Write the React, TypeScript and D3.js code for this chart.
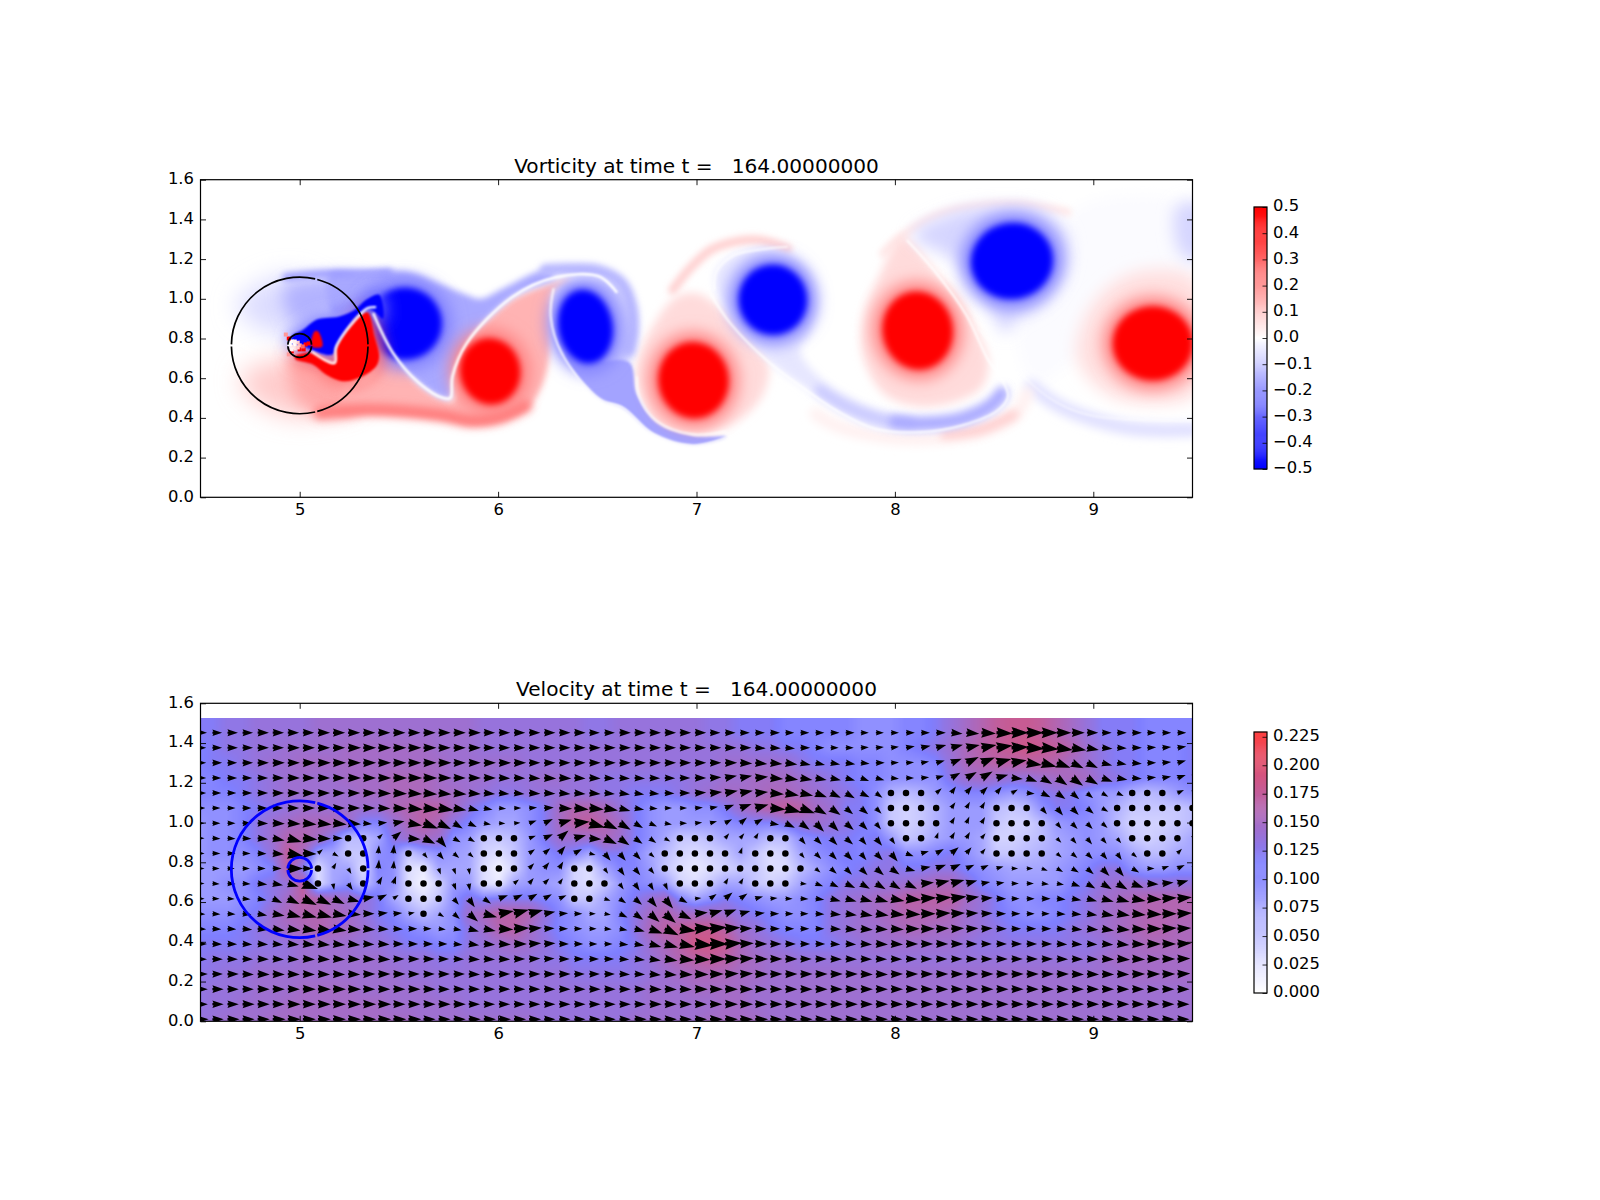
import { useEffect, useRef } from "react"
import * as d3 from "d3"

type Pt = [number, number]

const xTicks = [5, 6, 7, 8, 9]
const yTicks = [0, 0.2, 0.4, 0.6, 0.8, 1.0, 1.2, 1.4, 1.6]
const vorticityBarTicks = [-0.5, -0.4, -0.3, -0.2, -0.1, 0, 0.1, 0.2, 0.3, 0.4, 0.5]
const speedBarTicks = [0, 0.025, 0.05, 0.075, 0.1, 0.125, 0.15, 0.175, 0.2, 0.225]

// vortex cores: the saturated blobs in the top panel
const coreX = [5.53, 5.96, 6.44, 6.985, 7.385, 8.115, 8.59, 9.3]
const coreY = [0.875, 0.635, 0.86, 0.59, 0.995, 0.84, 1.19, 0.775]
const coreRx = [0.175, 0.14, 0.125, 0.165, 0.16, 0.165, 0.195, 0.19]
const coreRy = [0.17, 0.155, 0.175, 0.18, 0.165, 0.185, 0.18, 0.175]
const coreTilt = [0, 10, 10, 8, 10, 10, 10, 0]
const coreSign = [-1, 1, -1, 1, -1, 1, -1, 1]

// vorticity sheets, outlines in data units
const upperSheet: Pt[] = [[5.15, 1.125], [5.3, 1.13], [5.54, 1.137], [5.7, 1.078], [5.84, 1.02], [5.91, 1.0], [6.04, 1.06], [6.24, 1.145], [6.29, 1.108], [6.07, 1.008], [5.84, 0.774], [5.77, 0.61], [5.76, 0.501], [5.72, 0.501], [5.6, 0.577], [5.47, 0.727], [5.37, 0.928], [5.28, 0.953], [5.17, 0.93], [5.14, 1.0]]
const upperBand: Pt[] = [[6.24, 1.145], [6.38, 1.15], [6.51, 1.14], [6.62, 1.08], [6.67, 0.97], [6.68, 0.84], [6.66, 0.74]]
const capPale: Pt[] = [[4.68, 0.96], [4.78, 1.06], [4.95, 1.115], [5.1, 1.05], [5.05, 0.9], [4.9, 0.82]]
const capBlue: Pt[] = [[4.92, 1.05], [5.05, 1.1], [5.3, 1.1], [5.32, 0.98], [5.1, 0.92], [4.97, 0.88]]
const capEdge: Pt[] = [[4.93, 1.11], [5.1, 1.125], [5.3, 1.13], [5.45, 1.135]]
const capPink: Pt[] = [[4.7, 0.6], [4.95, 0.7], [5.1, 0.62], [5.3, 0.5], [5.07, 0.41], [4.9, 0.42], [4.76, 0.5]]
const capPinkInner: Pt[] = [[4.95, 0.68], [5.1, 0.62], [5.25, 0.55], [5.3, 0.44], [5.1, 0.42], [4.98, 0.5]]
const lowerSheet: Pt[] = [[6.37, 1.103], [6.07, 0.995], [5.84, 0.76], [5.78, 0.61], [5.78, 0.485], [5.72, 0.493], [5.6, 0.568], [5.48, 0.719], [5.37, 0.911], [5.4, 0.677], [5.34, 0.593], [5.25, 0.55], [5.2, 0.42], [5.335, 0.43], [5.7, 0.401], [5.87, 0.368], [6.0, 0.384], [6.14, 0.443], [6.22, 0.56], [6.26, 0.727], [6.26, 0.928], [6.28, 1.045]]
const blueTwoBody: Pt[] = [[6.31, 1.06], [6.27, 0.911], [6.32, 0.727], [6.45, 0.62], [6.6, 0.6], [6.66, 0.68], [6.68, 0.844], [6.66, 0.97], [6.59, 1.077], [6.45, 1.1]]
const blueTwoCrescent: Pt[] = [[6.33, 0.72], [6.51, 0.5], [6.63, 0.45], [6.78, 0.325], [6.98, 0.265], [7.15, 0.305], [6.98, 0.31], [6.8, 0.375], [6.7, 0.52], [6.66, 0.68], [6.45, 0.68]]
const redThreeBody: Pt[] = [[7.0, 1.027], [7.09, 0.977], [7.25, 0.81], [7.36, 0.676], [7.33, 0.509], [7.19, 0.375], [7.0, 0.317], [6.8, 0.367], [6.71, 0.542], [6.7, 0.676], [6.8, 0.894], [6.9, 1.01]]
const blueThreeBody: Pt[] = [[7.11, 1.027], [7.1, 1.136], [7.19, 1.22], [7.36, 1.248], [7.54, 1.161], [7.6, 0.994], [7.57, 0.827], [7.52, 0.743], [7.63, 0.593], [7.79, 0.492], [7.94, 0.434], [8.13, 0.409], [8.33, 0.434], [8.48, 0.5], [8.54, 0.559], [8.57, 0.5], [8.52, 0.442], [8.34, 0.367], [8.13, 0.334], [7.9, 0.35], [7.71, 0.442], [7.54, 0.559], [7.36, 0.693], [7.25, 0.827]]
const redFourBody: Pt[] = [[8.04, 1.312], [8.21, 1.128], [8.36, 0.927], [8.47, 0.693], [8.44, 0.559], [8.31, 0.484], [8.11, 0.459], [7.94, 0.526], [7.84, 0.71], [7.84, 0.91], [7.92, 1.111]]
const blueFourBody: Pt[] = [[8.09, 1.32], [8.25, 1.42], [8.44, 1.462], [8.73, 1.446], [8.86, 1.337], [8.87, 1.161], [8.75, 0.977], [8.61, 0.894], [8.56, 0.827], [8.44, 1.027], [8.31, 1.186]]
const redFiveBody: Pt[] = [[9.1, 1.078], [9.27, 1.144], [9.52, 1.094], [9.52, 0.526], [9.27, 0.475], [9.06, 0.526], [8.92, 0.693], [8.96, 0.91]]
const blueEdgeBody: Pt[] = [[9.42, 1.462], [9.55, 1.48], [9.55, 1.195], [9.44, 1.228]]
const farWash: Pt[] = [[8.9, 1.45], [9.5, 1.47], [9.5, 1.1], [8.95, 0.72], [8.7, 0.58], [8.62, 0.85], [8.87, 1.2]]
const nearRed: Pt[] = [[4.975, 0.71], [5.07, 0.727], [5.176, 0.674], [5.184, 0.752], [5.3, 0.911], [5.343, 0.931], [5.377, 0.81], [5.4, 0.71], [5.385, 0.66], [5.3, 0.602], [5.22, 0.585], [5.134, 0.618], [5.067, 0.669], [4.98, 0.694]]
const nearBlue: Pt[] = [[4.96, 0.81], [5.017, 0.844], [5.084, 0.894], [5.134, 0.903], [5.2, 0.911], [5.276, 0.944], [5.335, 0.995], [5.4, 1.02], [5.42, 0.9], [5.36, 0.945], [5.293, 0.92], [5.184, 0.764], [5.164, 0.719], [5.067, 0.74], [5.0, 0.769], [4.958, 0.769]]
const nearTriangle: Pt[] = [[5.06, 0.76], [5.114, 0.76], [5.092, 0.836], [5.075, 0.836]]

// thin streaks, open lines
const arcOverBlueThree: Pt[] = [[6.88, 1.044], [6.96, 1.145], [7.07, 1.245], [7.19, 1.287], [7.32, 1.295], [7.46, 1.253]]
const arcOverBlueFour: Pt[] = [[7.94, 1.228], [8.04, 1.32], [8.21, 1.42], [8.4, 1.466], [8.63, 1.476], [8.87, 1.437]]
const tailThreeFaint: Pt[] = [[7.62, 0.54], [7.75, 0.46], [7.94, 0.39], [8.08, 0.372]]
const tailThree: Pt[] = [[8.0, 0.38], [8.13, 0.371], [8.33, 0.392], [8.48, 0.459], [8.54, 0.525]]
const pinkUnderTail: Pt[] = [[7.6, 0.42], [7.71, 0.358], [7.98, 0.3], [8.25, 0.3], [8.44, 0.333], [8.6, 0.41], [8.67, 0.526]]
const pinkUnderTailStrong: Pt[] = [[8.25, 0.317], [8.44, 0.345], [8.6, 0.417]]
const tailFour: Pt[] = [[8.69, 0.559], [8.83, 0.459], [9.0, 0.392], [9.21, 0.345], [9.5, 0.34]]
const pinkBottomBand: Pt[] = [[5.1, 0.425], [5.335, 0.44], [5.7, 0.415], [5.87, 0.385], [6.0, 0.4], [6.14, 0.46]]

// white seams between the signs
const seamNear: Pt[] = [[5.06, 0.735], [5.176, 0.677], [5.184, 0.757], [5.3, 0.916], [5.343, 0.953], [5.385, 0.958]]
const seamOne: Pt[] = [[5.37, 0.928], [5.47, 0.727], [5.6, 0.577], [5.72, 0.501], [5.76, 0.501], [5.77, 0.61], [5.84, 0.774], [6.07, 1.008], [6.29, 1.108], [6.51, 1.112], [6.6, 1.03]]
const seamTwo: Pt[] = [[6.28, 1.053], [6.265, 0.911], [6.32, 0.727], [6.51, 0.493], [6.63, 0.45], [6.78, 0.317], [6.98, 0.258], [7.15, 0.3]]
const seamThree: Pt[] = [[6.7, 0.61], [6.71, 0.509], [6.8, 0.384], [6.98, 0.317], [7.15, 0.333]]
const seamFour: Pt[] = [[7.07, 1.027], [7.17, 0.877], [7.36, 0.685], [7.55, 0.542], [7.71, 0.434], [7.9, 0.345], [8.13, 0.328], [8.34, 0.362], [8.52, 0.439], [8.57, 0.509], [8.54, 0.593], [8.47, 0.693], [8.36, 0.919], [8.21, 1.128], [8.06, 1.295]]
const seamFive: Pt[] = [[7.09, 1.044], [7.1, 1.136], [7.19, 1.22], [7.36, 1.253], [7.46, 1.262]]
const seamSix: Pt[] = [[8.42, 0.85], [8.69, 0.57], [8.83, 0.47], [9.0, 0.41], [9.5, 0.385]]

// noisy cells right at the inner circle
const cellX = [4.975, 4.96, 4.99, 4.975, 4.96, 5.0, 4.945, 5.03, 5.045, 5.0, 5.02, 4.96, 4.985, 5.01, 4.945, 4.93, 4.95, 4.975, 4.99, 4.96, 5.015]
const cellY = [0.768, 0.76, 0.78, 0.75, 0.785, 0.765, 0.8, 0.77, 0.775, 0.745, 0.745, 0.735, 0.8, 0.8, 0.72, 0.82, 0.77, 0.785, 0.755, 0.745, 0.76]
const cellValue = [0, 0.05, 0.1, 0.05, 0, 0.15, 0.5, 0.5, 0.5, 0.5, 0.5, 0.5, -0.5, -0.5, 0.2, 0.2, 0, 0.03, 0.1, 0.02, 0.3]

// circles drawn over both panels
const outerRadius = 0.344
const innerRadius = 0.06
const circleCenter: Pt = [5.0, 0.765]
const vorticityGapAngles = [14, 90, 166, 270]
const velocityGapAngles = [14, 90, 166]
const innerGapAngles = [90, 270]

// speed at each arrow, hundredths, top row first, 67 columns
const speedRows = [
  [12,12,13,13,14,14,14,14,15,15, 15,15,15,15,15,15,15,15,15,14, 14,14,14,14,14,14,13,13,14,14, 14,14,14,14,13,13,12,12,12,11, 11,11,11,11,10,10,10,11,11,12, 14,16,18,20,21,21,20,18,16,14, 12,12,12,11,11,11,11],
  [11,12,13,13,14,14,15,15,15,15, 16,16,16,16,16,16,15,15,15,14, 14,14,14,14,14,14,14,14,14,14, 14,14,14,14,14,14,14,13,13,12, 12,11,10,10,10,10,10,11,12,13, 15,17,19,20,21,22,21,20,18,15, 13,12,12,11,11,11,12],
  [11,12,12,13,14,15,15,16,16,16, 16,16,16,16,16,16,16,15,15,15, 15,15,14,14,14,14,14,14,14,14, 14,14,14,14,14,15,15,15,15,15, 13,12,12,12,11,11,10,10,10,11, 14,17,18,19,19,19,19,18,16,15, 13,12,12,11,11,11,12],
  [11,11,12,12,13,14,15,15,15,15, 16,16,16,17,17,17,16,15,15,15, 14,14,14,15,15,14,14,13,13,13, 13,13,13,14,14,15,15,16,16,16, 15,14,13,12,11,11,10,10,10,10, 13,15,16,15,14,14,15,16,17,16, 14,13,12,11,11,11,12],
  [11,11,11,12,13,14,15,15,15,15, 15,16,16,17,17,17,16,16,15,14, 13,13,14,14,14,14,14,13,13,12, 12,12,13,14,15,16,16,16,17,17, 16,15,14,13,12,10,7,6,7,9, 10,11,11,10,9,10,12,13,12,10, 9,9,7,6,7,9,10],
  [10,10,10,11,12,13,14,15,15,15, 15,15,15,17,18,19,19,16,13,11, 9,9,10,12,16,18,18,17,14,12, 10,9,9,10,10,12,15,17,19,20, 19,16,15,12,12,10,5,4,5,7, 9,9,9,6,5,6,10,12,12,11, 9,7,5,5,5,5,6],
  [9,10,10,11,13,15,16,17,17,17, 16,11,11,14,17,19,17,13,11,9, 8,8,10,12,16,19,20,18,16,12, 10,9,9,9,9,10,11,11,11,13, 14,15,14,13,12,10,5,4,5,7, 9,9,9,5,4,4,6,9,10,10, 9,6,4,4,4,5,6],
  [9,10,10,11,13,15,18,18,16,12, 6,6,8,13,15,16,15,10,9,5, 5,6,9,12,15,15,15,17,15,12, 10,8,5,5,6,8,8,8,6,6, 10,11,12,12,11,12,9,5,6,8, 9,9,8,4,4,5,6,8,9,10, 9,8,5,4,5,6,8],
  [9,10,10,10,11,14,20,17,8,8, 5,5,10,11,5,8,10,9,8,4, 3,5,9,10,12,11,8,12,12,11, 8,6,4,3,4,5,8,5,3,4, 8,10,11,12,11,12,13,10,10,11, 12,10,8,5,5,6,7,8,9,10, 10,10,8,6,6,8,8],
  [9,9,9,9,10,11,19,12,3,8, 8,3,11,10,3,2,8,8,8,3, 1,4,9,10,10,4,3,8,11,11, 9,5,3,2,3,4,5,5,3,3, 6,8,10,11,12,13,13,12,12,13, 13,11,10,9,8,8,8,9,10,11, 13,13,10,9,9,10,10],
  [9,9,10,10,12,13,14,20,3,8, 10,5,10,10,3,1,4,9,9,3, 2,8,9,9,8,4,3,5,9,11, 10,9,4,3,5,8,8,5,4,5, 8,10,11,13,13,14,14,15,16,17, 17,14,11,10,9,9,9,9,11,12, 14,15,15,14,14,14,14],
  [9,9,9,10,11,13,16,19,18,16, 15,14,12,8,5,3,5,10,13,11, 12,12,12,11,10,5,5,8,10,12, 14,16,11,8,10,12,11,10,9,9, 10,11,13,14,15,16,17,19,19,19, 19,16,14,12,10,10,11,11,12,13, 15,16,17,18,18,18,18],
  [10,10,10,11,12,15,17,18,18,17, 16,14,12,11,8,6,8,10,15,17, 19,19,18,14,11,10,8,8,11,13, 16,18,16,16,16,15,13,12,11,10, 10,11,13,14,15,16,17,18,18,18, 17,15,14,12,11,10,10,11,12,13, 15,16,17,18,18,18,18],
  [11,11,11,12,13,15,16,17,18,17, 16,15,13,12,11,10,9,10,13,15, 18,19,16,13,11,10,9,9,10,13, 17,19,20,21,21,19,15,14,12,11, 11,11,13,14,15,15,16,17,17,16, 16,15,14,13,12,12,12,12,13,14, 15,16,17,18,18,17,17],
  [12,12,12,12,13,13,14,15,15,15, 15,14,14,13,12,12,11,11,13,14, 15,16,15,14,12,11,10,10,11,12, 15,17,19,22,22,21,17,15,14,13, 12,12,12,13,14,15,15,15,15,15, 15,14,13,13,13,13,13,13,13,13, 14,15,16,17,17,17,17],
  [12,13,13,13,14,14,14,15,15,15, 15,15,15,14,14,14,13,13,14,14, 14,14,14,13,13,12,12,12,12,13, 14,16,18,19,20,19,17,16,15,15, 14,14,14,14,14,14,14,14,14,14, 14,14,14,14,14,14,14,14,14,14, 15,16,16,16,16,16,16],
  [13,13,14,14,15,15,15,15,15,15, 15,15,15,15,14,14,14,14,14,14, 14,14,14,14,14,13,13,13,13,13, 14,15,16,17,17,17,16,16,15,15, 15,15,15,15,15,15,15,15,15,15, 15,15,15,15,15,15,15,15,15,15, 15,15,16,16,16,16,16],
  [13,14,14,14,15,15,15,16,16,16, 16,15,15,15,15,15,14,14,14,14, 14,14,14,14,14,14,14,14,14,14, 15,15,15,16,16,16,16,15,15,15, 15,15,15,15,15,15,15,15,15,15, 15,15,15,15,15,15,15,15,15,15, 15,15,15,15,15,15,15],
  [13,14,14,15,15,15,16,16,16,16, 16,16,16,15,15,15,15,15,14,14, 14,14,14,14,14,14,14,14,14,14, 15,15,15,15,15,16,16,15,15,15, 15,15,15,15,15,15,15,15,15,15, 15,15,15,15,15,15,15,15,15,15, 15,15,15,15,15,15,15],
  [14,14,15,15,15,16,16,16,16,16, 16,16,16,16,16,15,15,15,15,15, 15,15,15,14,14,14,14,14,14,15, 15,15,15,15,16,16,16,16,15,15, 15,15,15,15,15,15,15,15,15,15, 15,15,15,15,15,15,15,15,15,15, 15,15,15,15,15,15,15],
]

// direction of each arrow, degrees counter-clockwise from +x, same layout
const angleRows = [
  [0,0,0,0,0,0,0,0,0,0, 0,0,0,0,0,0,0,0,0,0, 0,0,0,0,0,0,0,0,0,0, 0,0,0,0,0,0,0,0,0,0, 0,0,0,0,0,0,0,0,0,0, -5,-5,-3,-3,0,0,0,0,0,0, 0,0,0,0,0,0,0],
  [0,0,0,0,0,0,0,0,0,0, 0,0,0,0,0,0,0,0,0,0, 0,0,0,0,0,0,0,0,0,0, 0,0,0,0,0,0,0,-3,-3,-5, 0,0,0,0,3,5,8,10,12,15, 15,12,10,8,3,-3,-5,-8,-10,-10, -5,-3,0,3,5,8,12],
  [0,0,0,0,0,0,0,0,0,0, 0,0,0,0,0,0,0,0,0,0, 0,0,0,0,0,0,0,0,0,0, 0,0,0,0,0,0,-3,-5,-5,-8, -12,-12,-10,-8,-5,0,3,5,10,15, 22,25,22,15,10,-8,-15,-20,-25,-25, -15,-10,-5,0,5,15,15],
  [0,0,0,0,0,0,0,0,0,0, 0,0,0,0,0,0,0,0,0,0, -2,-2,-3,-3,-3,-3,-3,-3,-3,-3, -2,-2,0,0,3,10,10,5,-5,-8, -10,-10,-12,-15,-20,-15,-5,0,5,15, 30,30,30,15,-5,-20,-30,-35,-35,-30, -20,-10,-5,5,10,20,20],
  [0,0,0,0,0,0,0,0,0,0, 0,0,-2,-3,-4,-5,-5,-5,-5,-5, -5,-5,-3,-3,-5,-5,-5,-5,-8,-8, -5,-3,0,3,5,10,10,5,-5,-10, -12,-20,-25,-30,-25,-35,0,0,0,40, 55,50,45,50,30,-5,-25,-35,-40,-40, -30,-25,-15,0,0,25,30],
  [0,0,0,0,0,0,0,0,0,0, 0,0,-2,-3,-5,-5,-8,-10,-15,-10, -5,0,5,3,-3,-5,-5,-10,-15,-10, -5,0,0,5,10,20,20,15,-5,-15, -20,-30,-35,-40,-40,-45,0,0,0,0, 55,60,60,0,0,0,-50,-50,-45,-40, -30,0,0,0,0,0,0],
  [0,0,0,0,-2,-3,-3,-5,-5,-5, -5,-5,5,10,-10,-20,-25,-30,-25,-10, -3,5,20,25,15,5,-15,-25,-30,-30, -25,-10,0,5,15,30,40,30,-10,-25, -35,-45,-45,-40,-45,-50,0,0,0,0, 60,65,60,0,0,0,0,-50,-45,-45, -40,0,0,0,0,0,0],
  [0,-3,-3,-3,-5,-10,-15,-5,-2,0, 0,0,45,40,-5,-25,-50,-30,-30,0, 0,0,20,25,40,15,-5,-25,-35,-35, -35,-30,0,0,0,50,50,60,0,0, -50,-45,-45,-40,-50,-50,-55,0,0,70, 60,60,50,0,0,0,0,-45,-50,-50, -50,-50,0,0,0,0,45],
  [0,0,0,0,-3,-5,-10,-3,40,-30, 0,0,85,85,0,-50,-50,-40,-40,0, 0,0,35,40,50,30,-15,-50,-50,-45, -40,0,0,0,0,0,70,0,0,0, -50,-45,-45,-45,-50,-45,-50,-20,15,30, 40,50,50,0,0,0,0,-40,-40,-45, -50,-55,-40,0,0,45,10],
  [0,0,0,0,0,0,0,0,0,60, -60,0,85,85,0,0,-70,-70,-80,0, 0,0,45,50,60,0,0,-55,-55,-50, -50,0,0,0,0,0,0,0,0,0, 0,-40,-40,-45,-45,-40,-35,-15,10,20, 25,25,25,15,0,0,-20,-30,-30,-40, -45,-50,-30,0,20,25,25],
  [0,-3,-3,-3,-5,-10,-15,-20,0,-80, -55,0,60,70,0,0,0,-70,-80,0, 0,40,50,45,55,0,0,0,-55,-55, -60,-65,0,0,0,60,60,0,0,0, -5,-20,-25,-25,-30,-30,-30,-25,5,12, 15,15,10,8,0,0,-5,-10,-20,-30, -30,-30,-20,-3,5,15,10],
  [0,0,-3,-5,-10,-25,-25,-25,-25,-25, -15,10,25,35,0,0,0,-50,-55,-35, 20,25,30,30,25,0,0,-20,-35,-40, -50,-50,-30,5,35,40,35,15,5,0, -3,-8,-15,-15,-15,-15,-10,-5,3,5, 8,8,5,0,0,0,0,-5,-10,-15, -15,-15,-10,-3,3,5,5],
  [-3,-3,-3,-5,-10,-10,-15,-15,-15,-10, -5,0,5,5,10,0,-30,-40,-40,-15, 10,15,15,10,3,0,0,-10,-25,-35, -40,-40,-25,5,15,20,15,5,0,0, 0,-3,-5,-8,-10,-8,-5,-3,0,3, 3,3,3,0,0,0,0,-3,-5,-8, -10,-8,-5,-3,0,3,3],
  [-3,-3,-3,-5,-5,-8,-8,-8,-8,-8, -5,-5,-3,-3,0,0,-5,-10,-15,-10, -3,3,5,3,0,0,0,-3,-10,-15, -20,-25,-8,3,5,5,3,0,0,0, 0,0,-3,-5,-5,-3,-3,0,0,3, 3,3,3,0,0,0,0,-3,-5,-5, -8,-5,-3,0,3,3,3],
  [0,-2,-2,-3,-3,-5,-5,-5,-5,-5, -5,-3,-3,0,0,0,0,-5,-8,-5, -3,0,3,3,0,0,0,0,-5,-10, -15,-15,-12,-5,0,3,3,0,0,0, 0,0,-3,-3,-3,-3,-3,0,0,0, 0,0,0,0,0,0,0,-3,-3,-3, -5,-5,-3,0,0,3,3],
  [-2,-2,-2,-2,-2,-3,-3,-3,-3,-3, -3,-2,-2,0,0,0,0,-2,-3,-3, -2,0,2,2,0,0,0,0,-3,-5, -8,-8,-5,-3,0,3,3,0,0,0, 0,0,-2,-2,-2,-2,-2,0,0,0, 0,0,0,0,0,0,0,-2,-2,-2, -3,-3,-2,0,0,2,2],
  [0,0,0,-2,-2,-2,-2,-2,-2,-2, -2,0,0,0,0,0,0,0,-2,-2, 0,0,0,0,0,0,0,0,-2,-3, -5,-5,-3,-2,0,2,2,0,0,0, 0,0,0,0,-2,-2,0,0,0,0, 0,0,0,0,0,0,0,0,-2,-2, -2,-2,0,0,0,2,2],
  [0,0,0,0,0,0,0,0,0,0, 0,0,0,0,0,0,0,0,0,0, 0,0,0,0,0,0,0,0,0,0, -2,-2,-2,0,0,0,0,0,0,0, 0,0,0,0,0,0,0,0,0,0, 0,0,0,0,0,0,0,0,0,0, 0,0,0,0,0,0,0],
  [0,0,0,0,0,0,0,0,0,0, 0,0,0,0,0,0,0,0,0,0, 0,0,0,0,0,0,0,0,0,0, 0,0,0,0,0,0,0,0,0,0, 0,0,0,0,0,0,0,0,0,0, 0,0,0,0,0,0,0,0,0,0, 0,0,0,0,0,0,0],
  [0,0,0,0,0,0,0,0,0,0, 0,0,0,0,0,0,0,0,0,0, 0,0,0,0,0,0,0,0,0,0, 0,0,0,0,0,0,0,0,0,0, 0,0,0,0,0,0,0,0,0,0, 0,0,0,0,0,0,0,0,0,0, 0,0,0,0,0,0,0],
]

// grid of the arrows in data units
const gridX0 = 4.484
const gridDx = 0.076
const gridY0 = 0.01
const gridDy = 0.0759
const imageTop = 1.526
const dotBelow = 0.075

const FONT = "'DejaVu Sans', sans-serif"
const TICK_SIZE = "16.4px"
const vorticityColor = d3.scaleLinear<string>().domain([-0.5, 0, 0.5]).range(["#0000ff", "#ffffff", "#ff0000"]).clamp(true)
const speedColor = d3.scaleLinear<string>().domain([0, 0.115, 0.2292]).range(["#ffffff", "#7f7fff", "#ff4040"]).clamp(true)
const lengthToColorSpeed = d3.scaleLinear().domain([0, 0.13, 0.23]).range([0, 0.13, 0.192])

const x0 = d3.scaleLinear().domain([4.5, 9.5]).range([200.5, 1192.5])
const yTop = d3.scaleLinear().domain([0, 1.6]).range([497.3, 179.7])
const yBottom = d3.scaleLinear().domain([0, 1.6]).range([1021.3, 703.3])

type Sel = d3.Selection<SVGGElement, unknown, null, undefined>

function drawFrame(g: Sel, y: d3.ScaleLinear<number, number>) {
  const bottom = y.range()[0]
  const top = y.range()[1]
  const right = x0.range()[1]
  const left = x0.range()[0]
  const pieces: [d3.Axis<d3.NumberValue>, number, number][] = [
    [d3.axisBottom(x0).tickValues(xTicks).tickFormat(d3.format("d")).tickSizeInner(-5.5).tickSizeOuter(0).tickPadding(5.8), 0, bottom],
    [d3.axisTop(x0).tickValues(xTicks).tickFormat(() => "").tickSizeInner(-5.5).tickSizeOuter(0), 0, top],
    [d3.axisLeft(y).tickValues(yTicks).tickFormat(d3.format(".1f")).tickSizeInner(-5.5).tickSizeOuter(0).tickPadding(6.5), left, 0],
    [d3.axisRight(y).tickValues(yTicks).tickFormat(() => "").tickSizeInner(-5.5).tickSizeOuter(0), right, 0],
  ]
  pieces.forEach(([axis, tx, ty], i) => {
    const a = g.append("g").attr("transform", `translate(${tx},${ty})`).call(axis)
    a.select(".domain").remove()
    a.selectAll("line").attr("stroke", "#000").attr("stroke-width", 0.9)
    a.selectAll("text").attr("fill", "#000").style("font-size", TICK_SIZE).style("font-family", FONT)
    if (i === 2) a.selectAll("text").attr("dy", "0.24em")
  })
  g.append("rect")
    .attr("x", left).attr("y", top).attr("width", right - left).attr("height", bottom - top)
    .attr("fill", "none").attr("stroke", "#000").attr("stroke-width", 1.2)
}

function drawTitle(g: Sel, text: string, y: number) {
  g.append("text")
    .attr("x", (x0.range()[0] + x0.range()[1]) / 2).attr("y", y)
    .attr("text-anchor", "middle")
    .attr("xml:space", "preserve")
    .style("white-space", "pre")
    .style("font-size", "20.1px").style("font-family", FONT)
    .text(text)
}

function drawColorbar(
  g: Sel, scale: d3.ScaleLinear<number, number>, color: d3.ScaleLinear<string, string>,
  ticks: number[], format: (v: number) => string,
) {
  const [lo, hi] = scale.domain()
  const left = 1254
  const right = 1267
  const steps = d3.range(0, 256).map((i) => lo + ((hi - lo) * (i + 0.5)) / 256)
  const h = (scale(lo) - scale(hi)) / 256
  g.append("g").selectAll("rect").data(steps).enter().append("rect")
    .attr("x", left).attr("width", right - left)
    .attr("y", (d) => scale(d) - h / 2 - 0.2).attr("height", h + 0.4)
    .attr("fill", (d) => color(d))
  const a = g.append("g").attr("transform", `translate(${right},0)`)
    .call(d3.axisRight(scale).tickValues(ticks).tickFormat((d) => format(d as number)).tickSizeInner(-4.5).tickSizeOuter(0).tickPadding(6))
  a.select(".domain").remove()
  a.selectAll("line").attr("stroke", "#000").attr("stroke-width", 0.8)
  a.selectAll("text").attr("fill", "#000").attr("dy", "0.24em").style("font-size", TICK_SIZE).style("font-family", FONT)
  g.append("rect")
    .attr("x", left).attr("y", scale(hi)).attr("width", right - left).attr("height", scale(lo) - scale(hi))
    .attr("fill", "none").attr("stroke", "#000").attr("stroke-width", 1.2)
}

function drawRing(g: Sel, y: d3.ScaleLinear<number, number>, radius: number, gaps: number[], gapDeg: number, stroke: string, width: number) {
  const r = radius * (y(0) - y(1))
  const cx = x0(circleCenter[0])
  const cy = y(circleCenter[1])
  gaps.forEach((a, i) => {
    const next = i === gaps.length - 1 ? gaps[0] + 360 : gaps[i + 1]
    const d = d3.arc()({
      innerRadius: r,
      outerRadius: r,
      startAngle: ((a + gapDeg / 2) * Math.PI) / 180,
      endAngle: ((next - gapDeg / 2) * Math.PI) / 180,
    })
    g.append("path").attr("transform", `translate(${cx},${cy})`).attr("d", d).attr("fill", "none")
      .attr("stroke", stroke).attr("stroke-width", width)
  })
}

function drawVorticity(root: Sel) {
  const g = root.append("g").attr("clip-path", "url(#clipTop)")
  const closed = d3.line<Pt>().x((d) => x0(d[0])).y((d) => yTop(d[1])).curve(d3.curveCatmullRomClosed.alpha(0.5))
  const open = d3.line<Pt>().x((d) => x0(d[0])).y((d) => yTop(d[1])).curve(d3.curveCatmullRom.alpha(0.5))

  const patch = (pts: Pt[], value: number, blur: number, grow = 0) =>
    g.append("path").attr("d", closed(pts)).attr("fill", vorticityColor(value))
      .attr("stroke", grow ? vorticityColor(value) : "none").attr("stroke-width", grow).attr("stroke-linejoin", "round")
      .attr("filter", `url(#blur${blur})`)
  const streak = (pts: Pt[], value: number, width: number, blur: number) =>
    g.append("path").attr("d", open(pts)).attr("fill", "none").attr("stroke", vorticityColor(value))
      .attr("stroke-width", width).attr("stroke-linecap", "round").attr("filter", `url(#blur${blur})`)

  patch(farWash, -0.008, 8)
  patch(capPale, -0.07, 12)
  patch(capBlue, -0.15, 8)
  patch(capPink, 0.1, 12)
  patch(capPinkInner, 0.17, 8)
  patch(redFiveBody, 0.06, 8)
  patch(blueEdgeBody, -0.08, 8)
  streak(tailFour, -0.06, 14, 5)
  streak(pinkUnderTail, 0.03, 12, 5)
  streak(pinkUnderTailStrong, 0.1, 9, 4)
  streak(arcOverBlueFour, 0.045, 8, 3)
  streak(arcOverBlueThree, 0.09, 9, 3)
  patch(redFourBody, 0.07, 5)
  patch(blueFourBody, -0.08, 8)
  patch(redThreeBody, 0.07, 5)
  patch(blueThreeBody, -0.05, 4)
  streak(tailThreeFaint, -0.11, 10, 4)
  streak(tailThree, -0.17, 12, 4)
  patch(blueTwoBody, -0.1, 4)
  patch(blueTwoCrescent, -0.18, 2)
  patch(lowerSheet, 0.15, 3)
  streak(pinkBottomBand, 0.26, 12, 4)
  patch(upperSheet, -0.17, 3)
  streak(capEdge, -0.2, 7, 3)
  streak(upperBand, -0.14, 12, 3)

  // halo then core of every vortex
  coreX.forEach((cx, i) => {
    const make = (grow: number, value: number, blur: number) =>
      g.append("ellipse")
        .attr("cx", x0(cx)).attr("cy", yTop(coreY[i]))
        .attr("rx", x0(coreX[i] + coreRx[i] + grow) - x0(coreX[i]))
        .attr("ry", yTop(coreY[i] - coreRy[i] - grow) - yTop(coreY[i]))
        .attr("transform", `rotate(${-coreTilt[i]},${x0(cx)},${yTop(coreY[i])})`)
        .attr("fill", vorticityColor(value * coreSign[i]))
        .attr("filter", `url(#blur${blur})`)
    make(0.06, 0.25, 8)
    make(0.012, 0.6, 3)
  })

  patch(nearRed, 0.3, 8, 10)
  patch(nearBlue, -0.3, 8, 6)
  patch(nearRed, 0.6, 1)
  patch(nearBlue, -0.6, 1)
  patch(nearTriangle, 0.6, 1)

  const seams: [Pt[], number][] = [
    [seamNear, 2.4], [seamOne, 2.6], [seamTwo, 1.8], [seamThree, 1.6], [seamFour, 1.8], [seamFive, 1.6], [seamSix, 1],
  ]
  seams.forEach(([pts, w]) => {
    g.append("path").attr("d", open(pts)).attr("fill", "none").attr("stroke", "#fff")
      .attr("stroke-width", w).attr("filter", "url(#blur1)")
  })

  g.append("g").selectAll("rect").data(cellX).enter().append("rect")
    .attr("x", (d) => x0(d) - 2)
    .attr("y", (_, i) => yTop(cellY[i]) - 2)
    .attr("width", 4).attr("height", 4)
    .attr("fill", (_, i) => vorticityColor(cellValue[i]))
}

function sampleSpeed(x: number, y: number) {
  const rows = speedRows.length
  const cols = speedRows[0].length
  const gx = Math.max(0, Math.min(cols - 1.001, (x - gridX0) / gridDx))
  const gy = Math.max(0, Math.min(rows - 1.001, rows - 1 - (y - gridY0) / gridDy))
  const c = Math.floor(gx)
  const r = Math.floor(gy)
  const fx = gx - c
  const fy = gy - r
  const top = speedRows[r][c] * (1 - fx) + speedRows[r][c + 1] * fx
  const low = speedRows[r + 1][c] * (1 - fx) + speedRows[r + 1][c + 1] * fx
  return (top * (1 - fy) + low * fy) / 100
}

function drawVelocity(root: Sel) {
  const g = root.append("g").attr("clip-path", "url(#clipBottom)")

  // speed background, from the same values the arrows use
  const w = 500
  const h = 152
  const canvas = document.createElement("canvas")
  canvas.width = w
  canvas.height = h
  const ctx = canvas.getContext("2d")!
  const px = d3.scaleLinear().domain([0, w]).range([4.5, 9.5])
  const py = d3.scaleLinear().domain([0, h]).range([imageTop, 0])
  for (let j = 0; j < h; j++) {
    for (let i = 0; i < w; i++) {
      ctx.fillStyle = speedColor(lengthToColorSpeed(sampleSpeed(px(i + 0.5), py(j + 0.5))))
      ctx.fillRect(i, j, 1, 1)
    }
  }
  g.append("image")
    .attr("href", canvas.toDataURL())
    .attr("x", x0(4.5)).attr("y", yBottom(imageTop))
    .attr("width", x0(9.5) - x0(4.5)).attr("height", yBottom(0) - yBottom(imageTop))
    .attr("preserveAspectRatio", "none")

  const arrowShape = d3.line()
  const arrows = g.append("g")
  const lengthScale = d3.scaleLinear().domain([0, 0.2292]).range([0, 18.5])
  speedRows.forEach((row, r) => {
    const dataY = gridY0 + gridDy * (speedRows.length - 1 - r)
    row.forEach((s, c) => {
      const speed = s / 100
      const ax = x0(gridX0 + gridDx * c)
      const ay = yBottom(dataY)
      if (speed < dotBelow) {
        arrows.append("circle").attr("cx", ax).attr("cy", ay).attr("r", 3.25).attr("fill", "#000")
        return
      }
      const u = lengthScale(speed) / 5
      arrows.append("path")
        .attr("transform", `translate(${ax},${ay}) rotate(${-angleRows[r][c]})`)
        .attr("d", arrowShape([[0, 0.5 * u], [0.5 * u, 0.5 * u], [0, 1.7 * u], [5 * u, 0], [0, -1.7 * u], [0.5 * u, -0.5 * u], [0, -0.5 * u]]) + "Z")
        .attr("fill", "#000")
    })
  })
}

export default function App() {
  const svgRef = useRef<SVGSVGElement>(null)

  useEffect(() => {
    if (!svgRef.current) return
    const svg = d3.select(svgRef.current)
    svg.selectAll("*").remove()

    const defs = svg.append("defs")
    ;[1, 2, 3, 4, 5, 8, 12].forEach((b) => {
      defs.append("filter").attr("id", `blur${b}`)
        .attr("filterUnits", "userSpaceOnUse")
        .attr("x", 0).attr("y", 0).attr("width", 1600).attr("height", 1200)
        .append("feGaussianBlur").attr("stdDeviation", b === 1 ? 0.8 : b === 2 ? 1.6 : b)
    })
    defs.append("clipPath").attr("id", "clipTop").append("rect")
      .attr("x", 200.5).attr("y", 179.7).attr("width", 992).attr("height", 317.6)
    defs.append("clipPath").attr("id", "clipBottom").append("rect")
      .attr("x", 200.5).attr("y", 703.3).attr("width", 992).attr("height", 318)

    const root = svg.append("g") as unknown as Sel

    drawVorticity(root)
    const ringsTop = root.append("g").attr("clip-path", "url(#clipTop)") as unknown as Sel
    drawRing(ringsTop, yTop, outerRadius, vorticityGapAngles, 1.8, "#000", 1.7)
    drawRing(ringsTop, yTop, innerRadius, innerGapAngles, 8, "#000", 1.7)
    drawFrame(root.append("g"), yTop)
    drawTitle(root, "Vorticity at time t =   164.00000000", 172.7)
    drawColorbar(
      root.append("g"),
      d3.scaleLinear().domain([-0.5, 0.5]).range([469, 207]),
      vorticityColor, vorticityBarTicks,
      (v) => d3.format(".1f")(v).replace("-", "\u2212"),
    )

    drawVelocity(root)
    const ringsBottom = root.append("g").attr("clip-path", "url(#clipBottom)") as unknown as Sel
    drawRing(ringsBottom, yBottom, outerRadius, velocityGapAngles, 1.8, "#0000ff", 2.8)
    drawRing(ringsBottom, yBottom, innerRadius, innerGapAngles, 8, "#0000ff", 2.8)
    drawFrame(root.append("g"), yBottom)
    drawTitle(root, "Velocity at time t =   164.00000000", 696)
    drawColorbar(
      root.append("g"),
      d3.scaleLinear().domain([0, 0.2292]).range([993, 732]),
      speedColor, speedBarTicks,
      (v) => d3.format(".3f")(v),
    )
  }, [])

  return (
    <svg ref={svgRef} width={1600} height={1200} style={{ position: "absolute", left: 0, top: 0, display: "block", background: "#fff" }} />
  )
}
